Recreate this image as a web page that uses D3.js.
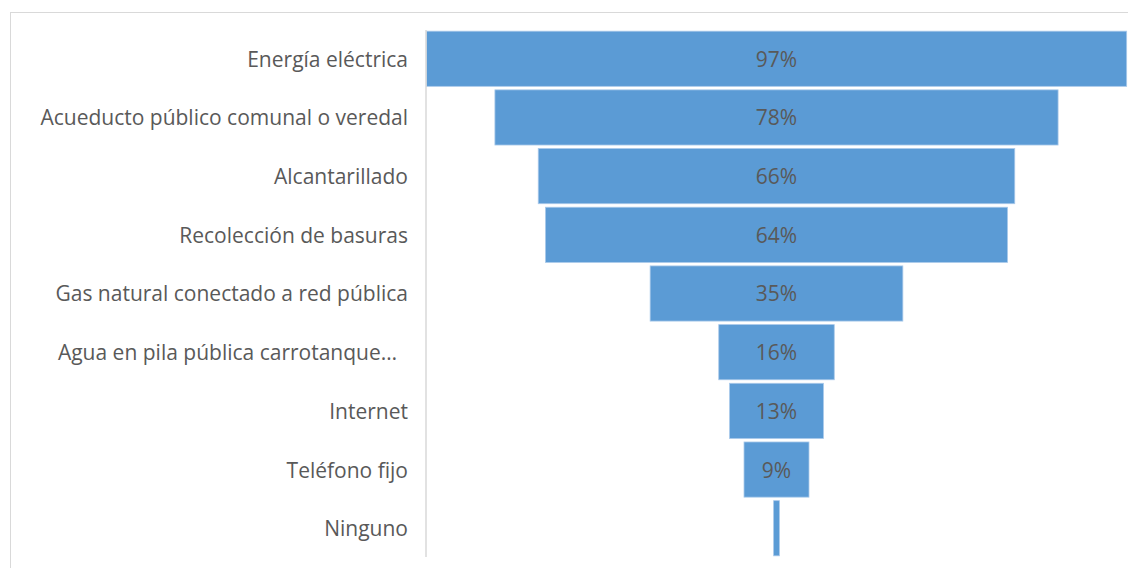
<!DOCTYPE html>
<html>
<head>
<meta charset="utf-8">
<script src="https://cdn.jsdelivr.net/npm/d3@7"></script>
<style>
  body { margin: 0; background: #fff; }
  svg { display: block; font-family: "Open Sans", sans-serif; }
</style>
</head>
<body>
<svg id="chart"></svg>
<script>
const categories = [
  "Energía eléctrica",
  "Acueducto público comunal o veredal",
  "Alcantarillado",
  "Recolección de basuras",
  "Gas natural conectado a red pública",
  "Agua en pila pública carrotanque…\u00a0\u00a0",
  "Internet",
  "Teléfono fijo",
  "Ninguno",
];
const values = [97, 78, 66, 64, 35, 16, 13, 9, 0.8];
const valueLabels = ["97%", "78%", "66%", "64%", "35%", "16%", "13%", "9%", ""];

const width = 1128;
const height = 568;
const axisX = 426;
const centerX = 776.5;

const svg = d3.select("#chart").attr("width", width).attr("height", height);

// chart area frame
svg.append("rect")
  .attr("x", 10.5)
  .attr("y", 12.5)
  .attr("width", width + 10)
  .attr("height", height + 10)
  .attr("fill", "none")
  .attr("stroke", "#d9d9d9");

const yScale = d3.scaleBand()
  .domain(categories)
  .range([30, 557])
  .paddingInner(0.06)
  .paddingOuter(0.02);

const widthScale = d3.scaleLinear().domain([0, 100]).range([0, 722]);

const rows = categories.map(function (c, i) {
  return { name: c, value: values[i], label: valueLabels[i] };
});

svg.selectAll(".bar")
  .data(rows)
  .enter()
  .append("rect")
  .attr("class", "bar")
  .attr("x", function (d) { return centerX - widthScale(d.value) / 2; })
  .attr("y", function (d) { return yScale(d.name); })
  .attr("width", function (d) { return widthScale(d.value); })
  .attr("height", yScale.bandwidth())
  .attr("fill", "#5b9bd5")
  .attr("stroke", "#a9c9ea")
  .attr("stroke-width", 0.8);

svg.selectAll(".val")
  .data(rows)
  .enter()
  .append("text")
  .attr("class", "val")
  .attr("x", centerX)
  .attr("y", function (d) { return yScale(d.name) + yScale.bandwidth() / 2; })
  .attr("dy", "0.38em")
  .attr("text-anchor", "middle")
  .style("fill", "#595959")
  .style("font-size", "21px")
  .text(function (d) { return d.label; });

const yAxis = svg.append("g")
  .attr("transform", "translate(" + axisX + ",0)")
  .call(d3.axisLeft(yScale).tickSize(0).tickPadding(18));

yAxis.select(".domain").attr("stroke", "#d9d9d9").attr("stroke-width", 1.5)
  .attr("d", "M0,30V557");
yAxis.selectAll("text")
  .attr("dy", "0.38em")
  .style("fill", "#595959")
  .style("font-size", "21px")
  .style("font-family", "'Open Sans', sans-serif");
</script>
</body>
</html>
